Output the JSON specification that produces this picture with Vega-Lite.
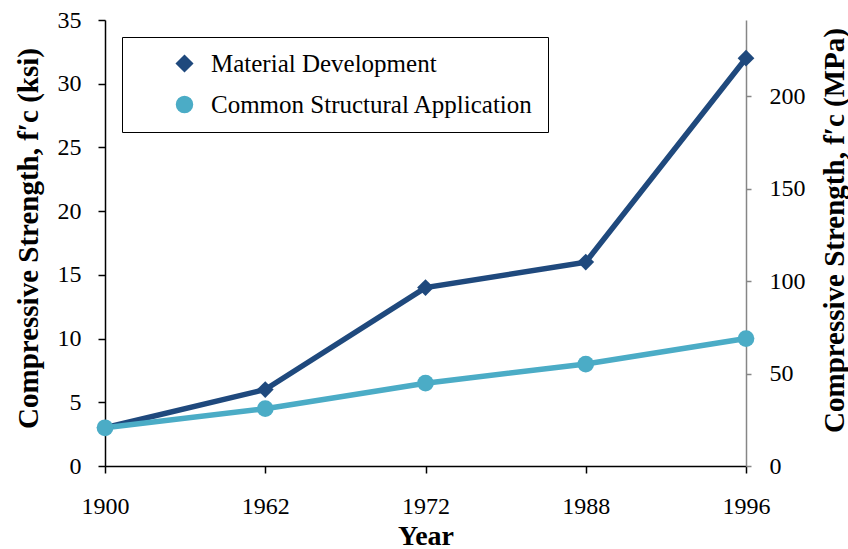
{
  "$schema": "https://vega.github.io/schema/vega-lite/v6.json",
  "width": 641,
  "height": 446,
  "autosize": {"type": "none"},
  "padding": {"left": 105, "top": 20, "right": 102, "bottom": 83},
  "background": "white",
  "config": {
    "view": {"stroke": null},
    "font": "Liberation Serif",
    "axis": {
      "grid": false,
      "labelFont": "Liberation Serif",
      "labelColor": "black",
      "titleFont": "Liberation Serif",
      "titleFontWeight": "bold",
      "titleColor": "black",
      "domainColor": "black",
      "tickColor": "black",
      "domainWidth": 1.5,
      "tickWidth": 1.5
    },
    "legend": {
      "orient": "none",
      "legendX": 17,
      "legendY": 17,
      "strokeColor": "black",
      "padding": 14,
      "labelFont": "Liberation Serif",
      "labelFontSize": 25,
      "labelColor": "black",
      "labelLimit": 600,
      "symbolSize": 256,
      "symbolOffset": 36,
      "labelOffset": 14,
      "rowPadding": 15
    }
  },
  "data": {
    "values": [
      {"year": "1900", "series": "Material Development", "ksi": 3},
      {"year": "1962", "series": "Material Development", "ksi": 6},
      {"year": "1972", "series": "Material Development", "ksi": 14},
      {"year": "1988", "series": "Material Development", "ksi": 16},
      {"year": "1996", "series": "Material Development", "ksi": 32},
      {"year": "1900", "series": "Common Structural Application", "ksi": 3},
      {"year": "1962", "series": "Common Structural Application", "ksi": 4.5},
      {"year": "1972", "series": "Common Structural Application", "ksi": 6.5},
      {"year": "1988", "series": "Common Structural Application", "ksi": 8},
      {"year": "1996", "series": "Common Structural Application", "ksi": 10}
    ]
  },
  "encoding": {
    "x": {
      "field": "year",
      "type": "ordinal",
      "scale": {"type": "point", "padding": 0},
      "axis": {
        "title": "Year",
        "titleFontSize": 28,
        "titlePadding": 4,
        "labelAngle": 0,
        "labelFontSize": 24,
        "tickSize": 7,
        "labelPadding": 21
      }
    }
  },
  "layer": [
    {
      "encoding": {
        "y": {
          "field": "ksi",
          "type": "quantitative",
          "scale": {"domain": [0, 35], "nice": false},
          "axis": {
            "title": "Compressive Strength, f′c (ksi)",
            "titleFontSize": 29,
            "titleX": -77,
            "titleY": 218,
            "titleBaseline": "middle",
            "titleAlign": "center",
            "titleAngle": -90,
            "values": [0, 5, 10, 15, 20, 25, 30, 35],
            "labelFontSize": 24,
            "tickSize": 7,
            "labelPadding": 17
          }
        },
        "color": {
          "field": "series",
          "type": "nominal",
          "scale": {
            "domain": ["Material Development", "Common Structural Application"],
            "range": ["#1F497D", "#4BACC6"]
          },
          "legend": {"title": null}
        }
      },
      "layer": [
        {
          "mark": {"type": "line", "strokeWidth": 5.5}
        },
        {
          "mark": {"type": "point", "filled": true, "opacity": 1, "size": 280},
          "encoding": {
            "shape": {
              "field": "series",
              "type": "nominal",
              "scale": {
                "domain": ["Material Development", "Common Structural Application"],
                "range": ["diamond", "circle"]
              },
              "legend": {"title": null}
            }
          }
        }
      ]
    },
    {
      "mark": {"type": "point", "opacity": 0},
      "encoding": {
        "y": {
          "field": "ksi",
          "type": "quantitative",
          "scale": {"domain": [0, 241.3], "nice": false},
          "axis": {
            "orient": "right",
            "title": "Compressive Strength, f′c (MPa)",
            "titleFontSize": 29,
            "titleX": 88,
            "titleY": 210,
            "titleBaseline": "middle",
            "titleAlign": "center",
            "titleAngle": -90,
            "values": [0, 50, 100, 150, 200],
            "labelFontSize": 24,
            "domainColor": "#868686",
            "tickColor": "#868686",
            "tickSize": 5,
            "labelPadding": 18
          }
        }
      }
    }
  ],
  "resolve": {"scale": {"y": "independent"}}
}
